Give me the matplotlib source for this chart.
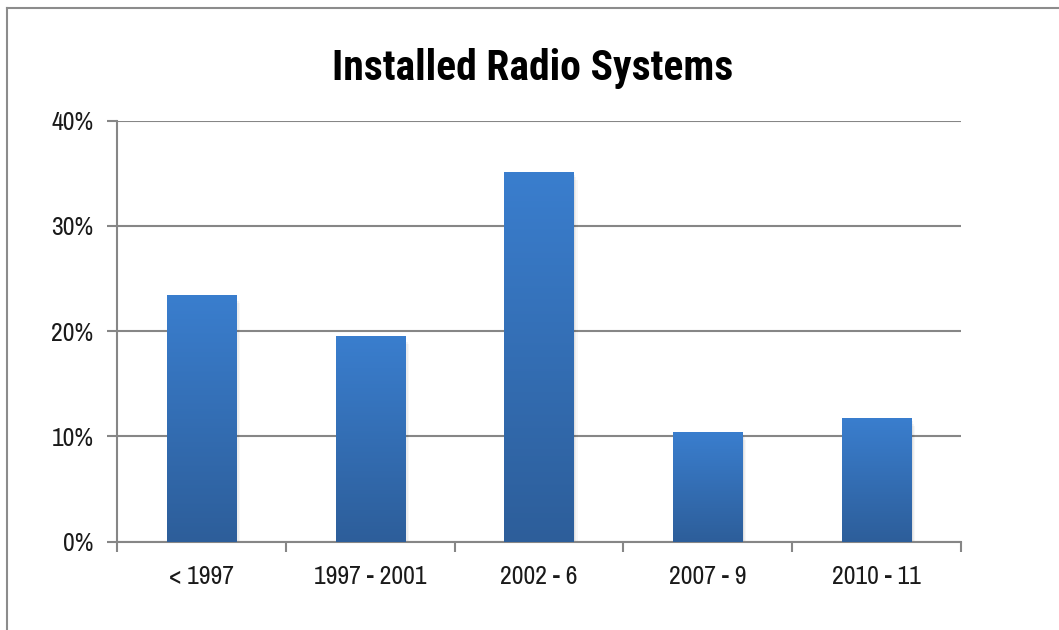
import numpy as np
import matplotlib
matplotlib.use("Agg")
import matplotlib.pyplot as plt
from matplotlib import font_manager
from matplotlib.colors import LinearSegmentedColormap
from matplotlib.patches import Rectangle
from matplotlib.lines import Line2D
from matplotlib.ticker import FuncFormatter, MultipleLocator

categories = ["< 1997", "1997 - 2001", "2002 - 6", "2007 - 9", "2010 - 11"]
shares = [23.4, 19.5, 35.1, 10.4, 11.7]
title = "Installed Radio Systems"

# Narrow sans faces for labels and title, with safe fallbacks
available = {f.name for f in font_manager.fontManager.ttflist}
def pick(*names):
    return [n for n in names if n in available] + ["DejaVu Sans"]

label_family = pick("Archivo Narrow", "Roboto Condensed", "Liberation Sans")
title_family = pick("Roboto Condensed", "Archivo Narrow", "Liberation Sans")
plt.rcParams["font.family"] = label_family

fig = plt.figure(figsize=(10.59, 6.30), dpi=100)
ax = fig.add_axes([0.1105, 0.1403, 0.7970, 0.6684])

n = len(categories)
x = np.arange(n)
width = 0.41
grid_color = "#868686"

ax.set_xlim(-0.5, n - 0.5)
ax.set_ylim(0, 40)
ax.yaxis.set_major_locator(MultipleLocator(10))
ax.yaxis.set_major_formatter(FuncFormatter(lambda v, _: f"{v:.0f}%"))
ax.grid(axis="y", color=grid_color, linewidth=1.5, zorder=0)
ax.set_axisbelow(True)

for side in ("top", "right"):
    ax.spines[side].set_visible(False)
for side in ("left", "bottom"):
    ax.spines[side].set_color(grid_color)
    ax.spines[side].set_linewidth(1.5)

# Vertical blue gradient, lighter at the top
cmap = LinearSegmentedColormap.from_list("bar_blue", ["#2D5E9A", "#3A7ECE"])
grad = np.linspace(0, 1, 256).reshape(-1, 1)

bars = ax.bar(x, shares, width=width, color="none", edgecolor="none", zorder=3)
for bar, xi, val in zip(bars, x, shares):
    x0 = xi - width / 2
    # soft drop shadow
    for k, a in enumerate([0.05, 0.04, 0.03]):
        off = 0.008 * (k + 1)
        ax.add_patch(Rectangle((x0 + off, -0.25 * (k + 1)), width, val,
                               facecolor="black", alpha=a, edgecolor="none",
                               zorder=2))
    im = ax.imshow(grad, cmap=cmap, origin="lower", aspect="auto",
                   extent=[x0, x0 + width, 0, val], zorder=3,
                   interpolation="bilinear")
    im.set_clip_path(bar)

ax.set_xlim(-0.5, n - 0.5)
ax.set_ylim(0, 40)

# category labels centred, tick marks on category boundaries
ax.set_xticks(x)
ax.set_xticklabels(categories)
ax.set_xticks(np.arange(n + 1) - 0.5, minor=True)
ax.tick_params(axis="x", which="major", length=0, pad=17, labelsize=18.5,
               labelcolor="#1a1a1a")
ax.tick_params(axis="x", which="minor", length=7, width=1.5, color=grid_color,
               direction="out")
ax.tick_params(axis="y", length=7, width=1.5, color=grid_color, pad=10,
               labelsize=18.5, labelcolor="#1a1a1a")

fig.text(0.5025, 0.873, title, ha="center", va="baseline", fontsize=30,
         fontweight="bold", color="black", family=title_family)

# Frame lines along the top and left edges of the figure
fig.add_artist(Line2D([7 / 1059, 7 / 1059], [0, 1 - 8 / 630],
                      transform=fig.transFigure, color="#8c8c8c", linewidth=1.5))
fig.add_artist(Line2D([7 / 1059, 1], [1 - 8 / 630, 1 - 8 / 630],
                      transform=fig.transFigure, color="#8c8c8c", linewidth=1.5))

fig.savefig("out.png", dpi=100, facecolor="white")
